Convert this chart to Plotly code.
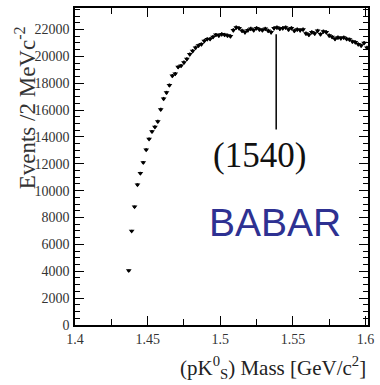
import plotly.graph_objects as go
import numpy as np

# bin centres (2 MeV bins) and event counts
mass = [1.437 + 0.002 * k for k in range(83)]
events = [4050, 7000, 8800, 10450, 11300, 12100, 13050, 13850, 14400, 14750,
          15150, 16050, 16850, 17300, 17850, 18550, 18700, 19200, 19300, 19550,
          19800, 20150, 20400, 20650, 20800, 20900, 21150, 21280, 21300, 21450,
          21600, 21550, 21650, 21600, 21550, 21500, 21950, 22150, 22100, 21900,
          21800, 21950, 22050, 21950, 22100, 22000, 21950, 22050, 21900, 21800,
          22100, 22150, 22050, 22100, 22150, 22000, 22100, 21900, 22000, 21950,
          22000, 21700, 21600, 21800, 21700, 21900, 21650, 21850, 21800, 21550,
          21450, 21300, 21400, 21350, 21400, 21300, 21250, 21100, 21050, 20900,
          20800, 21000, 20650]
errors = [float(np.sqrt(v)) for v in events]

x_ticks = [1.4, 1.45, 1.5, 1.55, 1.6]
x_tick_labels = ["1.4", "1.45", "1.5", "1.55", "1.6"]
y_ticks = list(range(0, 22001, 2000))
y_tick_labels = [str(v) for v in y_ticks]

peak_mass = 1.5385
peak_label = "(1540)"

serif = "Liberation Serif, Times New Roman, serif"

fig = go.Figure()
fig.add_trace(go.Scatter(
    x=mass, y=events, mode="markers",
    marker=dict(symbol="triangle-down", size=5, color="black"),
    error_x=dict(type="constant", value=0.001, thickness=1.8, width=0, color="black"),
    error_y=dict(type="data", array=errors, thickness=1.5, width=0, color="black"),
    showlegend=False,
))

fig.add_shape(type="line", xref="x", yref="y", x0=peak_mass, x1=peak_mass,
              y0=14550, y1=21650, line=dict(color="black", width=1.5))

fig.add_annotation(x=1.5273, y=12650, xref="x", yref="y", text=peak_label,
                   showarrow=False, xanchor="center", yanchor="middle",
                   font=dict(family=serif, size=35, color="#111"))
fig.add_annotation(x=1.538, y=7620, xref="x", yref="y", text="BABAR",
                   showarrow=False, xanchor="center", yanchor="middle",
                   font=dict(family="Liberation Sans, Arial, sans-serif", size=39,
                             color="rgb(46,49,146)"))

fig.add_annotation(x=1.0, y=-0.135, xref="paper", yref="paper", xanchor="right",
                   yanchor="middle",
                   text="(pK<sup>0</sup><sub>S</sub>) Mass [GeV/c<sup>2</sup>]",
                   showarrow=False, font=dict(family=serif, size=21, color="#222"))
fig.add_annotation(x=-0.168, y=0.686, xref="paper", yref="paper",
                   xanchor="center", yanchor="middle",
                   text="Events /2 MeVc<sup>-2</sup>", textangle=-90,
                   showarrow=False, font=dict(family=serif, size=23, color="#333"))

fig.update_layout(
    width=380, height=385,
    margin=dict(l=75, r=8, t=6, b=60),
    paper_bgcolor="white", plot_bgcolor="white",
    xaxis=dict(range=[1.4, 1.6017], tickvals=x_ticks, ticktext=x_tick_labels,
               ticks="inside", ticklen=9, tickwidth=1.3, tickcolor="black",
               showline=True, linecolor="black", linewidth=1.5, mirror="ticks",
               showgrid=False, zeroline=False,
               tickfont=dict(family=serif, size=14, color="#333"),
               minor=dict(dtick=0.025, tick0=1.4, ticks="inside", ticklen=6,
                          tickcolor="black", tickwidth=1.2, showgrid=False)),
    yaxis=dict(range=[0, 23600], tickvals=y_ticks, ticktext=y_tick_labels,
               ticks="inside", ticklen=9, tickwidth=1.3, tickcolor="black",
               showline=True, linecolor="black", linewidth=1.5, mirror="ticks",
               showgrid=False, zeroline=False, ticklabelstandoff=1,
               tickfont=dict(family=serif, size=14, color="#333"),
               minor=dict(dtick=500, tick0=0, ticks="inside", ticklen=5,
                          tickcolor="black", tickwidth=1.2, showgrid=False)),
)

fig.write_html("out.html", config={"displayModeBar": False},
               post_script="document.body.style.margin='0px';")
